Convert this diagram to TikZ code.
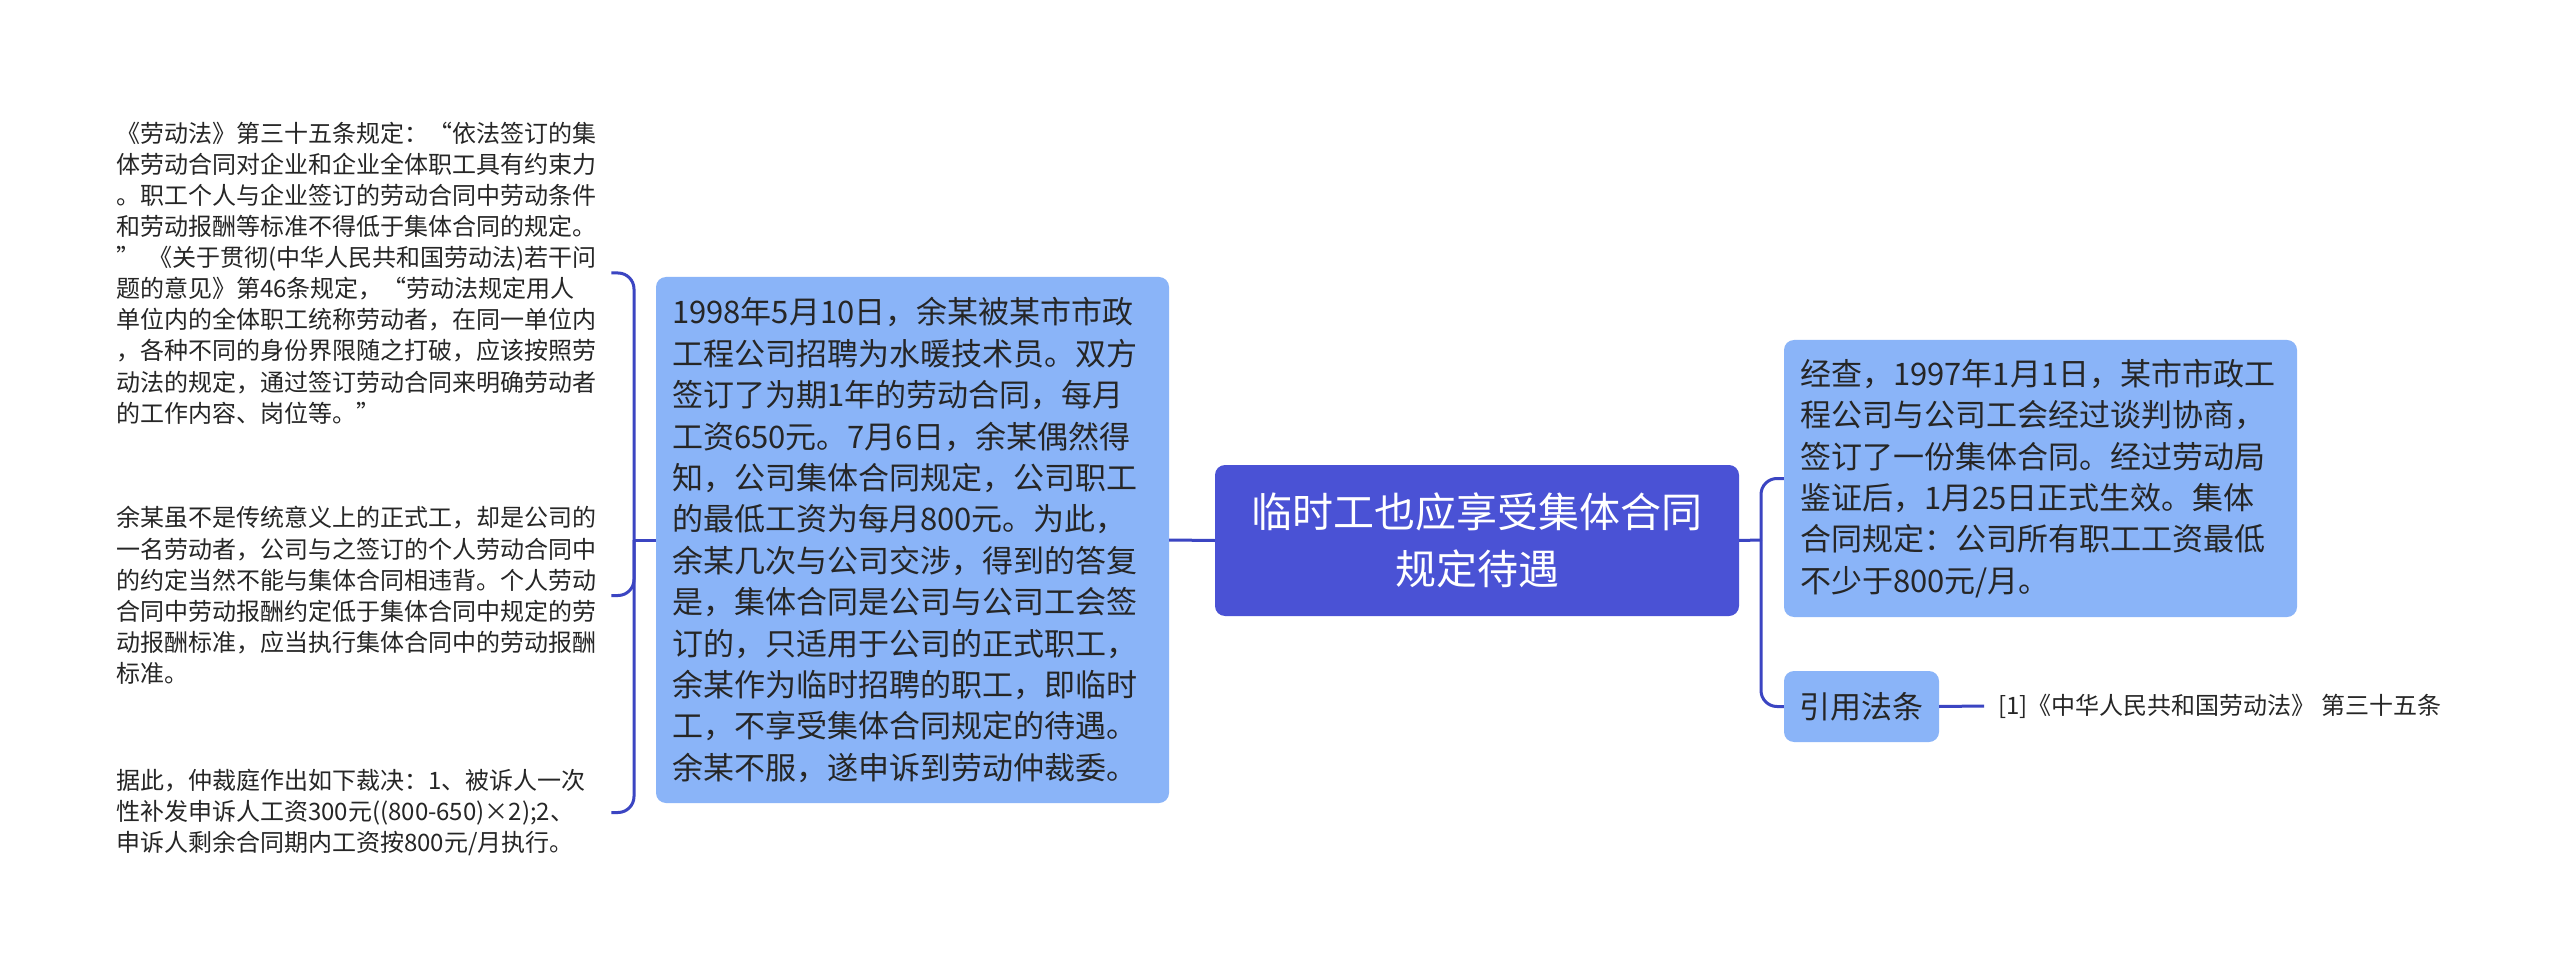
\documentclass[tikz,border=0pt]{standalone}
\usepackage{fontspec}
\setmainfont{Noto Sans CJK SC}
\definecolor{darkb}{HTML}{4A52D5}
\definecolor{lightb}{HTML}{8AB4F8}
\definecolor{linec}{HTML}{3B45C2}
\definecolor{textc}{HTML}{262626}
\tikzset{
  conn/.style={draw=linec, line width=3pt, rounded corners=16pt},
  centerbox/.style={fill=darkb, rounded corners=10pt, inner sep=0pt, text=white, align=center,
    font=\fontsize{41}{57}\selectfont},
  lightbox/.style={fill=lightb, rounded corners=10pt, inner sep=0pt, text=textc,
    font=\fontsize{31}{41.4}\selectfont},
  leaftext/.style={inner sep=0pt, text=textc, align=left, text width=495pt,
    font=\fontsize{24}{31.1}\selectfont},
}
\begin{document}
\begin{tikzpicture}[x=1pt,y=-1pt]
\useasboundingbox (0,0) rectangle (2560,973);
\fill[white] (0,0) rectangle (2560,973);

% central topic
\node[centerbox, minimum width=524pt, minimum height=151pt] (c) at (1477,540.5)
  {临时工也应享受集体合同\\规定待遇};

% left main node
\node[lightbox, minimum width=513pt, minimum height=526pt, text width=481pt, align=left] (L) at (912.5,540)
  {1998年5月10日，余某被某市市政\\工程公司招聘为水暖技术员。双方\\签订了为期1年的劳动合同，每月\\工资650元。7月6日，余某偶然得\\知，公司集体合同规定，公司职工\\的最低工资为每月800元。为此，\\余某几次与公司交涉，得到的答复\\是，集体合同是公司与公司工会签\\订的，只适用于公司的正式职工，\\余某作为临时招聘的职工，即临时\\工，不享受集体合同规定的待遇。\\余某不服，遂申诉到劳动仲裁委。};

% left leaves
\node[leaftext, anchor=west] (t1) at (116,273)
  {《劳动法》第三十五条规定：“依法签订的集\\体劳动合同对企业和企业全体职工具有约束力\\。职工个人与企业签订的劳动合同中劳动条件\\和劳动报酬等标准不得低于集体合同的规定。\\” 《关于贯彻(中华人民共和国劳动法)若干问\\题的意见》第46条规定，“劳动法规定用人\\单位内的全体职工统称劳动者，在同一单位内\\，各种不同的身份界限随之打破，应该按照劳\\动法的规定，通过签订劳动合同来明确劳动者\\的工作内容、岗位等。”};
\node[leaftext, anchor=west] (t2) at (116,595.5)
  {余某虽不是传统意义上的正式工，却是公司的\\一名劳动者，公司与之签订的个人劳动合同中\\的约定当然不能与集体合同相违背。个人劳动\\合同中劳动报酬约定低于集体合同中规定的劳\\动报酬标准，应当执行集体合同中的劳动报酬\\标准。};
\node[leaftext, anchor=west] (t3) at (116,812.5)
  {据此，仲裁庭作出如下裁决：1、被诉人一次\\性补发申诉人工资300元((800-650)×2);2、\\申诉人剩余合同期内工资按800元/月执行。};

% right nodes
\node[lightbox, minimum width=513pt, minimum height=277pt, text width=481pt, align=left] (R) at (2040.5,478.5)
  {经查，1997年1月1日，某市市政工\\程公司与公司工会经过谈判协商，\\签订了一份集体合同。经过劳动局\\鉴证后，1月25日正式生效。集体\\合同规定：公司所有职工工资最低\\不少于800元/月。};
\node[lightbox, minimum width=155pt, minimum height=71pt, align=center] (Q) at (1861.5,706.5) {引用法条};
\node[inner sep=0pt, inner xsep=14pt, anchor=west, text=textc, font=\fontsize{24}{30}\selectfont] (ref) at (1984,706)
  {[1]《中华人民共和国劳动法》 第三十五条};

% connectors
\coordinate (lj) at (634,540);
\coordinate (rj) at (1761,540);
\draw[conn] (c.west) -- (L.east);
\draw[conn] (L.west) -- (lj);
\draw[conn] (lj) |- (t1.east);
\draw[conn] (lj) |- (t2.east);
\draw[conn] (lj) |- (t3.east);
\draw[conn] (c.east) -- (rj);
\draw[conn] (rj) |- (R.west);
\draw[conn] (rj) |- (Q.west);
\draw[conn] (Q.east) -- (ref.west);
\end{tikzpicture}
\end{document}
